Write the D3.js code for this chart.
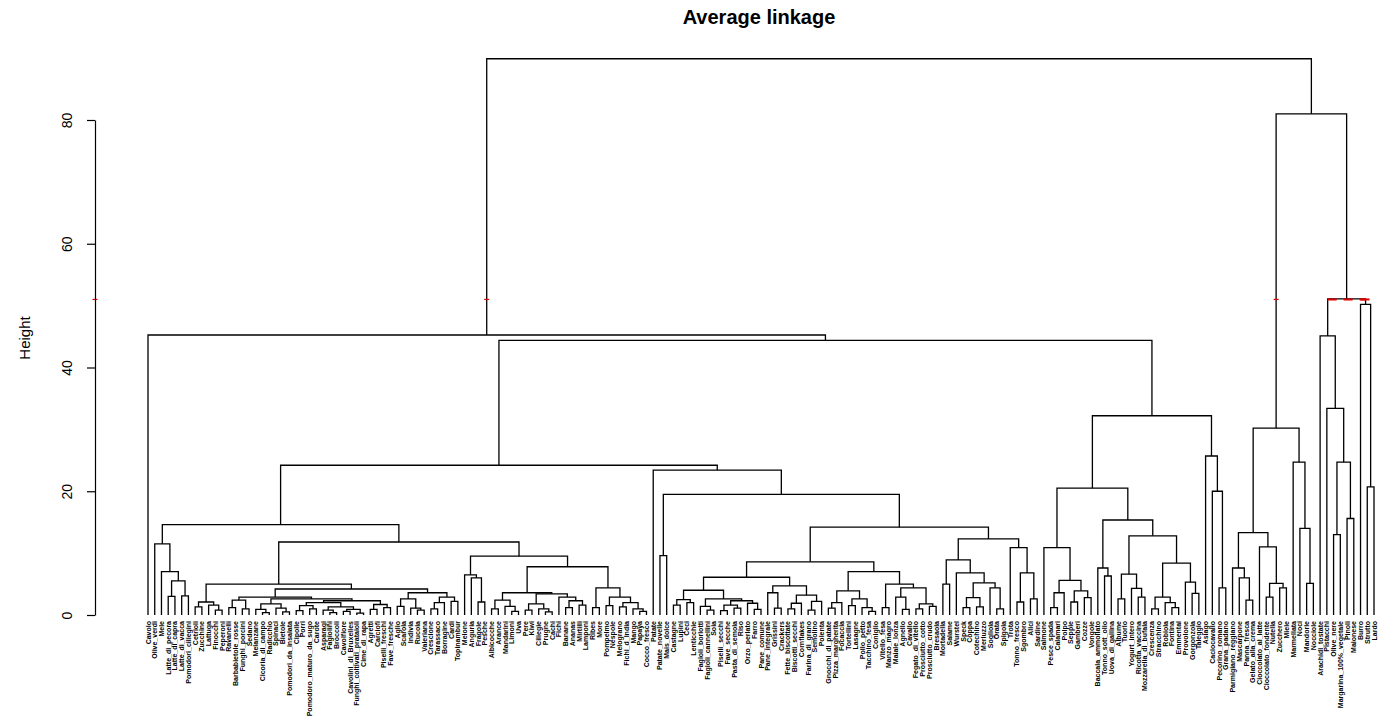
<!DOCTYPE html>
<html>
  <head>
    <meta charset="utf-8">
    <title>Average linkage</title>
    <style>
      body {
        margin: 0;
        background: #fff;
        overflow: hidden;
      }

      text {
        font-family: "Liberation Sans", Arial, sans-serif;
      }

      .links path {
        fill: none;
        stroke: #000;
        stroke-width: 1.3px;
      }

      .leaf-label {
        font-size: 7px;
        font-weight: bold;
      }
    </style>
  </head>
  <body>
    <svg width="1378" height="718"></svg>
  </body>
  <script src="https://cdn.jsdelivr.net/npm/d3@7"></script>
  <script>
    // leaf labels, left to right
    const leafLabels = [
      "Cavolo", "Olive_verdi", "Mele", "Latte_di_pecora", "Latte_di_capra", "Latte_di_vacca", "Pomodori_ciliegini", "Cetrioli", "Zucchine", "Lattuga",
      "Finocchi", "Peperoni", "Ravanelli", "Barbabietole_rosse", "Funghi_porcini", "Sedano", "Melanzane", "Cicoria_di_campo", "Radicchio", "Spinaci",
      "Bietole", "Pomodori_da_insalata", "Cipolle", "Porri", "Pomodoro_maturo_da_sugo", "Carote", "Asparagi", "Fagiolini", "Broccoli", "Cavolfiore",
      "Cavolini_di_Bruxelles", "Funghi_coltivati_prataioli", "Cime_di_rapa", "Agretti", "Carciofi", "Piselli_freschi", "Fave_fresche", "Aglio", "Scarola", "Indivia",
      "Rucola", "Valeriana", "Crescione", "Tarassaco", "Borragine", "Cardi", "Topinambur", "Melone", "Anguria", "Fragole",
      "Pesche", "Albicocche", "Arance", "Mandarini", "Limoni", "Uva", "Pere", "Kiwi", "Ciliegie", "Prugne",
      "Cachi", "Fichi", "Banane", "Ananas", "Mirtilli", "Lamponi", "Ribes", "More", "Pompelmo", "Nespole",
      "Melograno", "Fichi_d_India", "Mango", "Papaya", "Cocco_fresco", "Patate", "Patate_novelle", "Mais_dolce", "Castagne", "Lupini",
      "Ceci", "Lenticchie", "Fagioli_borlotti", "Fagioli_cannellini", "Soia", "Piselli_secchi", "Fave_secche", "Pasta_di_semola", "Riso", "Orzo_perlato",
      "Farro", "Pane_comune", "Pane_integrale", "Grissini", "Crackers", "Fette_biscottate", "Biscotti_secchi", "Cornflakes", "Farina_di_grano", "Semolino",
      "Polenta", "Gnocchi_di_patate", "Pizza_margherita", "Focaccia", "Tortellini", "Lasagne", "Pollo_petto", "Tacchino_fesa", "Coniglio", "Vitello_fesa",
      "Manzo_magro", "Maiale_lonza", "Agnello", "Cavallo", "Fegato_di_vitello", "Prosciutto_cotto", "Prosciutto_crudo", "Bresaola", "Mortadella", "Salame",
      "Wurstel", "Speck", "Coppa", "Cotechino", "Merluzzo", "Sogliola", "Orata", "Spigola", "Trota", "Tonno_fresco",
      "Sgombro", "Alici", "Sardine", "Salmone", "Pesce_spada", "Calamari", "Polpo", "Seppie", "Gamberi", "Cozze",
      "Vongole", "Baccala_ammollato", "Tonno_sott_olio", "Uova_di_gallina", "Albume", "Tuorlo", "Yogurt_intero", "Ricotta_vaccina", "Mozzarella_di_bufala", "Crescenza",
      "Stracchino", "Robiola", "Fontina", "Emmental", "Provolone", "Gorgonzola", "Taleggio", "Asiago", "Caciocavallo", "Pecorino_romano",
      "Grana_padano", "Parmigiano_reggiano", "Mascarpone", "Panna_fresca", "Gelato_alla_crema", "Cioccolato_al_latte", "Cioccolato_fondente", "Nutella", "Zucchero", "Miele",
      "Marmellata", "Noci", "Mandorle", "Nocciole", "Arachidi_tostate", "Pistacchi", "Olive_nere", "Margarina_100%_vegetale", "Pinoli", "Maionese",
      "Burro", "Strutto", "Lardo", "Olio_extravergine"
    ];

    // merge heights, written as (left,right)height, L = leaf
    const clusterC1 = "(L,(L,((L,L)3.0,(L,L)3.1)5.5)7.0)11.5";
    const clusterC2b = "(((L,(L,L)0.4)0.9,(L,(L,L)0.5)1.1)1.8,((((L,L)0.7,(L,L)1.0)1.5,((L,(L,L)0.4)0.8,((L,L)0.6,(L,L)0.3)0.9)1.3)2.0,((L,L)0.9,(L,L)1.2)1.7)2.3)2.6";
    const clusterC2c = "(((L,L)1.4,(L,(L,L)0.8)1.1)2.6,(((L,L)1.0,L)2.0,(L,L)2.2)2.9)3.6";
    const clusterC3a = "(L,(L,(L,L)2.1)6.0)6.5";
    const clusterC3b = "(((L,L)1.0,(L,(L,L)0.6)1.4)2.4,(((L,L)0.8,(L,(L,L)0.5)1.0)1.8,(L,((L,L)1.2,(L,L)1.6)2.3)2.9)3.4)3.6";
    const clusterC3c = "((L,L)1.2,((L,L)1.5,((L,L)1.3,(L,(L,L)0.6)1.0)2.0)2.9)4.4";
    const clusterN705 = "(((L,L)1.6,(L,L)2.0)2.5,((L,(L,L)0.8)1.4,(((L,L)0.7,(L,L)1.1)1.6,(L,(L,L)0.9)1.9)2.3)2.6)4.0";
    const clusterN790 = "((L,(L,L)1.1)3.6,(((L,L)1.0,L)1.9,((L,L)0.8,L)2.2)3.2)4.7";
    const clusterN856 = "(((L,L)1.1,L)2.0,((L,L)1.5,(L,(L,L)0.6)1.2)2.6)3.9";
    const clusterN905 = "((L,L)1.2,((L,(L,L)0.9)2.9,((L,L)1.0,(L,L)1.4)1.8)4.4)5.0";
    const clusterN989 = "(((L,L)5.0,(L,(((L,L)1.2,(L,L)1.3)2.8,(L,(L,L)1.0)4.4)5.2)6.8)8.9,(L,((L,L)2.1,(L,L)2.6)6.8)10.9)12.3";
    const clusterP = "(L,(((L,L)1.2,L)3.6,((L,L)2.1,(L,L)2.8)3.9)5.6)10.9";
    const clusterQ1 = "(L,(L,L)6.3)7.6";
    const clusterQ2a = "((L,L)2.6,(L,(L,L)2.9)4.3)6.6";
    const clusterQ2b = "(((L,L)1.0,(L,(L,L)1.2)2.0)2.9,(L,(L,L)3.5)5.3)8.4";
    const clusterR = "(L,(L,(L,L)4.4)20.0)25.7";
    const clusterB1 = "(((L,(L,(L,L)2.4)6.0)7.6,(L,((L,L)2.9,(L,L)4.4)5.1)11.0)13.3,(L,(L,(L,L)5.1)14.0)24.7)30.2";
    const clusterB2 = "((L,(L,((L,L)13.0,(L,L)15.6)24.7)33.4)45.1,(L,(L,L)20.7)50.2)51.1";

    const yTicks = [0, 20, 40, 60, 80];
    const cutHeight = 51;

    // put the clusters together
    const c2 = `(((L,L)1.3,(L,(L,L)0.8)1.6)2.1,((((L,L)1.2,(L,L)1.0)2.4,${clusterC2b})2.9,${clusterC2c})4.2)5.0`;
    const c3 = `(${clusterC3a},(${clusterC3b},${clusterC3c})7.8)9.5`;
    const leftLeft = `(${clusterC1},(${c2},${c3})11.8)14.6`;
    const n813 = `((${clusterN705},${clusterN790})6.1,(${clusterN856},${clusterN905})7.0)8.6`;
    const leftRight = `(L,((L,L)9.6,(${n813},${clusterN989})14.2)19.5)23.4`;
    const q = `(${clusterQ1},(${clusterQ2a},${clusterQ2b})12.8)15.35`;
    const midRight = `((${clusterP},${q})20.5,${clusterR})32.2`;
    const treeString = `((L,((${leftLeft},${leftRight})24.2,${midRight})44.4)45.25,(${clusterB1},${clusterB2})81.0)89.9`;

    function parseTree(s) {
      let i = 0;
      function node() {
        if (s[i] === '(') {
          i++;
          const a = node();
          i++; // ,
          const b = node();
          i++; // )
          let j = i;
          while (i < s.length && /[0-9.]/.test(s[i])) i++;
          return { height: +s.slice(j, i), children: [a, b] };
        }
        i++; // L
        return { height: 0 };
      }
      return node();
    }

    const svg = d3.select('svg');

    const root = d3.hierarchy(parseTree(treeString));
    const leaves = root.leaves();
    leaves.forEach((d, i) => { d.index = i; d.label = leafLabels[i]; });

    const x = d3.scaleLinear()
      .domain([0, leaves.length - 1])
      .range([148, 1374]);
    const y = d3.scaleLinear()
      .domain([0, 80])
      .range([615, 120]);

    // R style: node sits midway between its two children
    root.eachAfter(d => {
      d.px = d.children ? (d.children[0].px + d.children[1].px) / 2 : x(d.index);
    });

    const internal = root.descendants().filter(d => d.children);

    svg.append('g')
      .attr('class', 'links')
      .selectAll('path')
      .data(internal)
      .enter()
      .append('path')
      .attr('d', d => {
        const [a, b] = d.children;
        return 'M' + a.px + ',' + y(a.data.height) +
          'V' + y(d.data.height) +
          'H' + b.px +
          'V' + y(b.data.height);
      });

    // red marks where the cut at h = 51 meets the tree
    const cutGroup = svg.append('g').attr('id', 'cut');
    const crossings = [];
    internal.forEach(d => {
      d.children.forEach(c => {
        if (c.data.height < cutHeight && d.data.height > cutHeight + 1) crossings.push(c.px);
      });
    });
    crossings.push(95);
    cutGroup.selectAll('line.tick-cut')
      .data(crossings)
      .enter()
      .append('line')
      .attr('class', 'tick-cut')
      .attr('x1', d => d - 2.5)
      .attr('x2', d => d + 2.5)
      .attr('y1', y(cutHeight))
      .attr('y2', y(cutHeight))
      .attr('stroke', '#e00000')
      .attr('stroke-width', 1.2);

    cutGroup.selectAll('line.dash-cut')
      .data(internal.filter(d => Math.abs(d.data.height - cutHeight) < 1.5))
      .enter()
      .append('line')
      .attr('class', 'dash-cut')
      .attr('x1', d => d.children[0].px)
      .attr('x2', d => d.children[1].px)
      .attr('y1', y(cutHeight))
      .attr('y2', y(cutHeight))
      .attr('stroke', '#e00000')
      .attr('stroke-width', 2)
      .attr('stroke-dasharray', '9,7');

    // leaf labels, vertical
    svg.append('g')
      .selectAll('text')
      .data(leaves)
      .enter()
      .append('text')
      .attr('class', 'leaf-label')
      .attr('text-anchor', 'end')
      .attr('transform', d => 'translate(' + (d.px + 2.5) + ',621) rotate(-90)')
      .text(d => d.label);

    // y axis
    const axis = svg.append('g')
      .attr('transform', 'translate(95,0)')
      .call(d3.axisLeft(y).tickValues(yTicks).tickSize(8).tickSizeOuter(0));
    axis.select('.domain').attr('stroke-width', 1.2);
    axis.selectAll('.tick line').attr('stroke-width', 1.2);
    axis.selectAll('.tick text')
      .attr('x', null)
      .attr('dy', null)
      .attr('text-anchor', 'middle')
      .attr('transform', 'translate(-23,0) rotate(-90)')
      .style('font-size', '14px')
      .style('font-family', '"Liberation Sans", Arial, sans-serif')
      .attr('fill', '#000');

    svg.append('text')
      .attr('transform', 'translate(30,338) rotate(-90)')
      .attr('text-anchor', 'middle')
      .style('font-size', '15px')
      .text('Height');

    svg.append('text')
      .attr('x', 759)
      .attr('y', 24)
      .attr('text-anchor', 'middle')
      .style('font-size', '20px')
      .style('font-weight', 'bold')
      .text('Average linkage');
  </script>
</html>
